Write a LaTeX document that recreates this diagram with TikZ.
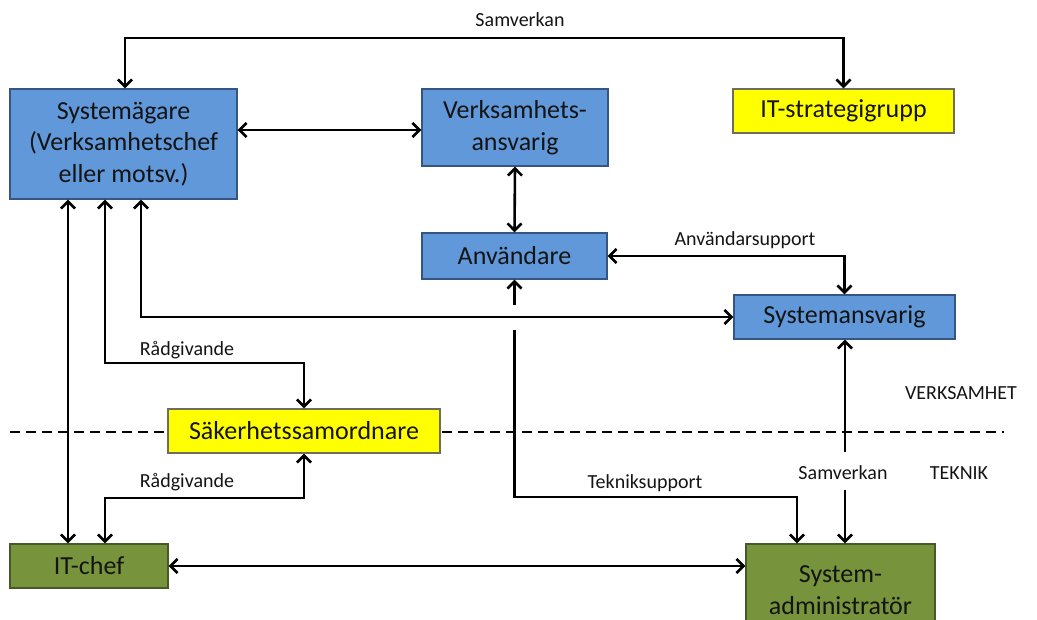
\documentclass[tikz,border=0pt]{standalone}
\usepackage{fontspec}
\setmainfont{Carlito}
\usetikzlibrary{arrows.meta}
\definecolor{boxblue}{RGB}{96,152,218}
\definecolor{blueline}{RGB}{55,85,130}
\definecolor{boxyellow}{RGB}{255,255,0}
\definecolor{yellowline}{RGB}{110,110,90}
\definecolor{boxgreen}{RGB}{119,147,60}
\definecolor{greenline}{RGB}{70,90,40}
\definecolor{txt}{RGB}{20,20,20}
\tikzset{
  box/.style={rectangle, inner sep=0pt, line width=1.4pt, align=center, text=txt,
    font=\fontsize{26}{31.7}\selectfont},
  bluebox/.style={box, fill=boxblue, draw=blueline},
  yellowbox/.style={box, fill=boxyellow, draw=yellowline},
  greenbox/.style={box, fill=boxgreen, draw=greenline},
  conn/.style={line width=2.6pt, black, {Straight Barb[length=7pt,width=14pt]}-{Straight Barb[length=7pt,width=14pt]}},
  conne/.style={line width=2.6pt, black, -{Straight Barb[length=7pt,width=14pt]}},
  lbl/.style={text=txt, inner sep=0pt, font=\fontsize{20}{24}\selectfont},
  sep/.style={line width=2.8pt, black, dash pattern=on 10pt off 6pt}
}
\begin{document}
\begin{tikzpicture}[x=1pt,y=-1pt]
\useasboundingbox (0,0) rectangle (1037,619);
% separator line
\coordinate (sepL) at (10,432);
\coordinate (sepR) at (1004,432);
\draw[sep] (sepL) -- (sepR);

% boxes
\node[bluebox, minimum width=227pt, minimum height=110pt] (sysag) at (123.5,144) {Systemägare\\(Verksamhetschef\\eller motsv.)};
\node[bluebox, minimum width=186pt, minimum height=77pt] (verk) at (515,127.5) {Verksamhets-\\ansvarig};
\node[yellowbox, minimum width=221pt, minimum height=44pt] (itsg) at (843.5,111) {IT-strategigrupp};
\node[bluebox, minimum width=185pt, minimum height=46pt] (anv) at (514.5,256) {Användare};
\node[bluebox, minimum width=221pt, minimum height=44pt] (sysansv) at (844.5,317) {Systemansvarig};
\node[yellowbox, minimum width=272pt, minimum height=44pt] (sak) at (304,431) {Säkerhetssamordnare};
\node[greenbox, minimum width=158pt, minimum height=44pt] (itchef) at (89,566) {IT-chef};
\node[greenbox, minimum width=189pt, minimum height=92pt] (sysadm) at (840.5,590) {System-\\administratör};

% helper coordinates
\coordinate (xA) at (125,0);
\coordinate (xB) at (141,0);
\coordinate (xC) at (105,0);
\coordinate (xD) at (68,0);
\coordinate (xE) at (797,0);
\coordinate (ytop) at (500,38);
\coordinate (y130) at (0,130);
\coordinate (r1) at (200,363);
\coordinate (r2) at (200,498);
\coordinate (gapTop) at (514.5,305);
\coordinate (gapBot) at (514.5,330);
\coordinate (t2) at (650,497);
\coordinate (s1) at (845,452);
\coordinate (s2) at (845,490);

% connectors
\draw[conn] (sysag.north -| xA) |- (ytop) -| (itsg.north);
\draw[conn] (sysag.east |- y130) -- (verk.west |- y130);
\draw[conn] (verk.south) -- (anv.north);
\draw[conn] (anv.east) -| (sysansv.north);
\draw[conn] (sysag.south -| xB) |- (sysansv.west);
\draw[conn] (sysag.south -| xC) |- (r1) -| (sak.north);
\draw[conn] (sysag.south -| xD) -- (itchef.north -| xD);
\draw[conn] (sak.south) |- (r2) -| (itchef.north -| xC);
\draw[conn] (itchef.east) -- (sysadm.west |- itchef.east);
\draw[conne] (gapTop) -- (anv.south);
\draw[conne] (gapBot) |- (t2) -| (sysadm.north -| xE);
\draw[conne] (s1) -- (sysansv.south -| s1);
\draw[conne] (s2) -- (sysadm.north -| s2);

% labels
\node[lbl] (lSam1) at (520,20) {Samverkan};
\node[lbl] (lAnv) at (745,240) {Användarsupport};
\node[lbl] (lRad1) at (187,350) {Rådgivande};
\node[lbl] (lRad2) at (187,482) {Rådgivande};
\node[lbl] (lTek) at (645,483) {Tekniksupport};
\node[lbl] (lSam2) at (843,473) {Samverkan};
\node[lbl] (lVerk) at (961,393) {VERKSAMHET};
\node[lbl] (lTeknik) at (959,473) {TEKNIK};
\end{tikzpicture}
\end{document}
